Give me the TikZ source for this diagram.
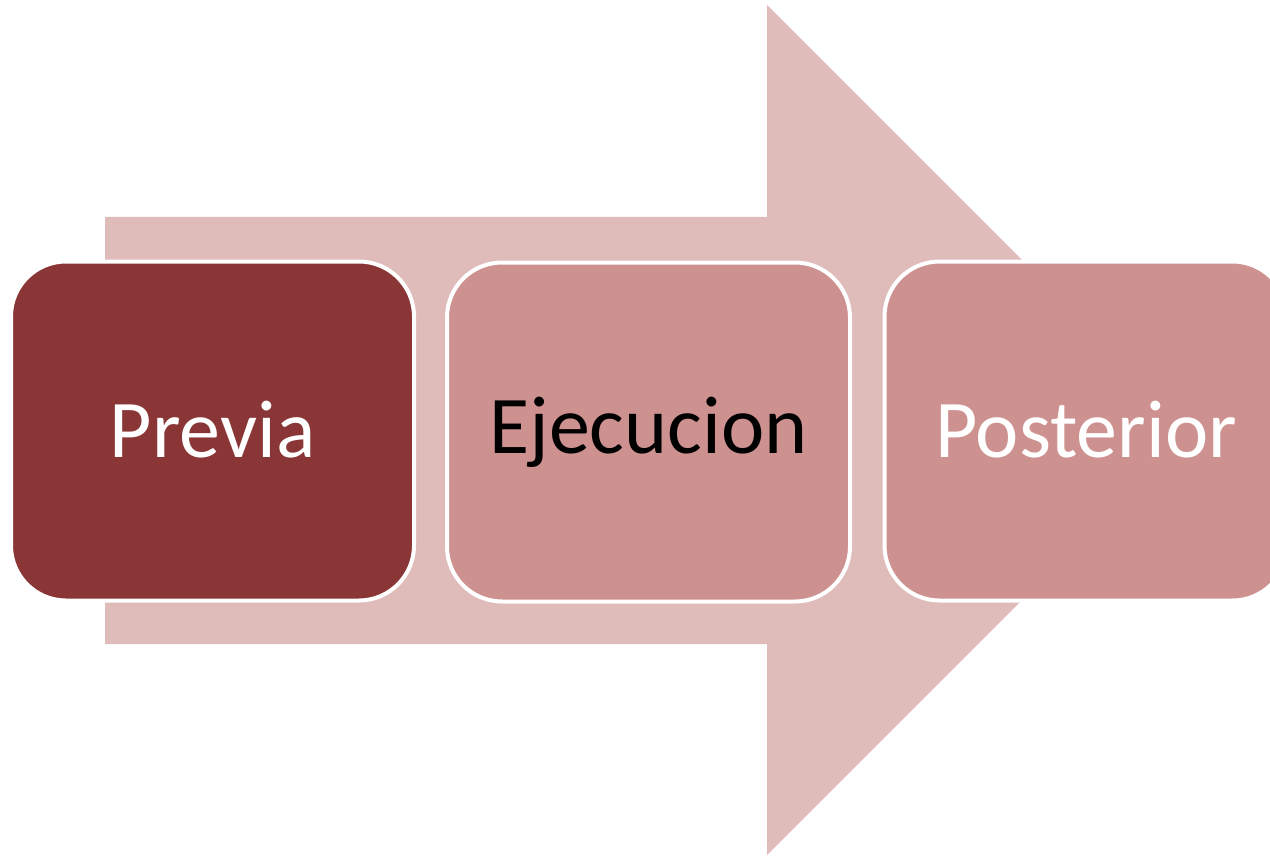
\documentclass[tikz,border=0pt]{standalone}
\usepackage{fontspec}
\setmainfont{Carlito}
\definecolor{arrowfill}{HTML}{DFBBBA}
\definecolor{darkbox}{HTML}{8B3636}
\definecolor{lightbox}{HTML}{CD9190}
\begin{document}
\begin{tikzpicture}[x=1pt,y=-1pt,
  stage/.style={draw=white, line width=4pt, rounded corners=55pt,
    minimum width=403pt, minimum height=339pt, inner sep=0pt,
    font=\fontsize{82}{94}\selectfont},
]
\useasboundingbox (0,0) rectangle (1270,856);
\clip (0,0) rectangle (1270,856);
\fill[arrowfill] (105,217) -- (767,217) -- (767,5) -- (1192,430) -- (767,855) -- (767,644) -- (105,644) -- cycle;
\node[stage, fill=darkbox, text=white] (previa) at (212.5,431) {\raisebox{3pt}{Previa}};
\node[stage, fill=lightbox, text=black] (ejec) at (648.5,432) {\raisebox{3pt}{Ejecucion}};
\node[stage, fill=lightbox, text=white] (post) at (1086,431) {\raisebox{3pt}{Posterior}};
\end{tikzpicture}
\end{document}
